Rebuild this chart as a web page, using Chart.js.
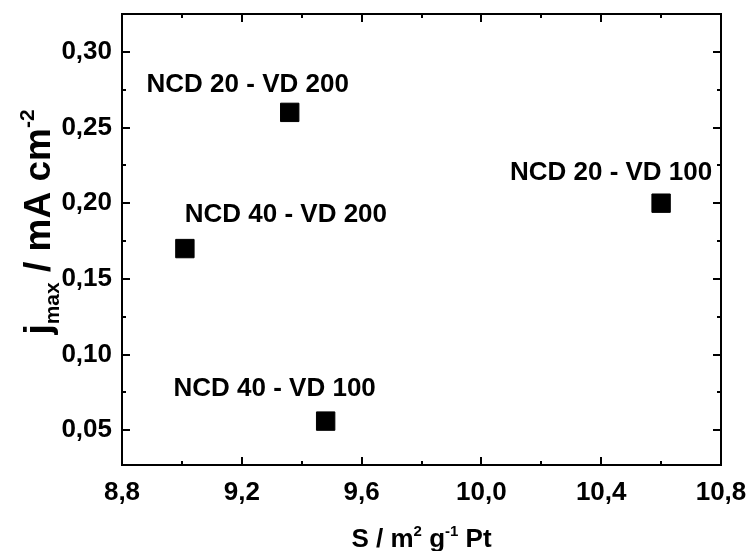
<!DOCTYPE html>
<html>
<head>
<meta charset="utf-8">
<script src="https://cdn.jsdelivr.net/npm/chart.js@4.4.1/dist/chart.umd.min.js"></script>
<style>
  html, body { margin: 0; padding: 0; background: #fff; }
  #wrap { width: 747px; height: 551px; }
</style>
</head>
<body>
<div id="wrap"><canvas id="c" width="747" height="551"></canvas></div>
<script>
// ---- data ----
const samples = ['NCD 20 - VD 200', 'NCD 40 - VD 200', 'NCD 40 - VD 100', 'NCD 20 - VD 100'];
const surface = [9.36, 9.01, 9.48, 10.60];   // S / m2 g-1 Pt
const jmax = [0.26, 0.17, 0.056, 0.20];      // mA cm-2
const xTicks = [8.8, 9.2, 9.6, 10.0, 10.4, 10.8];
const yTicks = [0.05, 0.10, 0.15, 0.20, 0.25, 0.30];

// where each sample name sits relative to its marker (px)
const nameShift = [[-42, -28], [101, -34], [-51, -32], [-50, -30]];

const FONT = '"Liberation Sans", Arial, Helvetica, sans-serif';
const comma = (v, d) => v.toFixed(d).replace('.', ',');

// text with sub/superscripts, centred on (cx, baseline cy)
function drawRich(ctx, parts, cx, cy, rotate) {
  ctx.save();
  ctx.translate(cx, cy);
  if (rotate) ctx.rotate(-Math.PI / 2);
  ctx.fillStyle = '#000';
  ctx.textBaseline = 'alphabetic';
  ctx.textAlign = 'left';
  let total = 0;
  parts.forEach(p => {
    ctx.font = `bold ${p.size}px ${FONT}`;
    p.w = ctx.measureText(p.t).width;
    total += p.w;
  });
  let x = -total / 2;
  parts.forEach(p => {
    ctx.font = `bold ${p.size}px ${FONT}`;
    ctx.fillText(p.t, x, p.dy || 0);
    x += p.w;
  });
  ctx.restore();
}

// box round the plot, inward ticks on all four sides
const frame = {
  id: 'frame',
  afterDraw(chart) {
    const { ctx, chartArea: a, scales: { x, y } } = chart;
    ctx.save();
    ctx.strokeStyle = '#000';
    ctx.lineWidth = 2;
    ctx.strokeRect(a.left, a.top, a.right - a.left, a.bottom - a.top);
    ctx.beginPath();
    for (let i = 0; i < xTicks.length; i++) {
      const px = Math.round(x.getPixelForValue(xTicks[i]));
      ctx.moveTo(px, a.bottom); ctx.lineTo(px, a.bottom - 8);
      ctx.moveTo(px, a.top); ctx.lineTo(px, a.top + 8);
      if (i < xTicks.length - 1) {
        const pm = Math.round(x.getPixelForValue((xTicks[i] + xTicks[i + 1]) / 2));
        ctx.moveTo(pm, a.bottom); ctx.lineTo(pm, a.bottom - 4);
        ctx.moveTo(pm, a.top); ctx.lineTo(pm, a.top + 4);
      }
    }
    const yMinor = [0.075, 0.125, 0.175, 0.225, 0.275];
    yTicks.forEach(v => {
      const py = Math.round(y.getPixelForValue(v));
      ctx.moveTo(a.left, py); ctx.lineTo(a.left + 8, py);
      ctx.moveTo(a.right, py); ctx.lineTo(a.right - 8, py);
    });
    yMinor.forEach(v => {
      const py = Math.round(y.getPixelForValue(v));
      ctx.moveTo(a.left, py); ctx.lineTo(a.left + 4, py);
      ctx.moveTo(a.right, py); ctx.lineTo(a.right - 4, py);
    });
    ctx.stroke();

    // sample names
    ctx.fillStyle = '#000';
    ctx.font = `bold 26px ${FONT}`;
    ctx.textAlign = 'center';
    ctx.textBaseline = 'middle';
    const meta = chart.getDatasetMeta(0);
    meta.data.forEach((pt, i) => {
      ctx.fillText(samples[i], pt.x + nameShift[i][0], pt.y + nameShift[i][1]);
    });

    // axis titles
    drawRich(ctx, [
      { t: 'S / m', size: 26 },
      { t: '2', size: 15, dy: -11 },
      { t: ' g', size: 26 },
      { t: '-1', size: 15, dy: -11 },
      { t: ' Pt', size: 26 }
    ], (a.left + a.right) / 2, 547);
    drawRich(ctx, [
      { t: 'j', size: 37 },
      { t: 'max', size: 21, dy: 9 },
      { t: ' / mA cm', size: 37 },
      { t: '-2', size: 21, dy: -16 }
    ], 50, 222, true);
    ctx.restore();
  }
};

new Chart(document.getElementById('c'), {
  type: 'scatter',
  data: {
    datasets: [{
      data: surface.map((s, i) => ({ x: s, y: jmax[i] })),
      pointStyle: 'rect',
      pointRadius: 13,
      pointHoverRadius: 13,
      backgroundColor: '#000',
      borderColor: '#000',
      borderWidth: 1
    }]
  },
  options: {
    responsive: false,
    animation: false,
    devicePixelRatio: 1,
    layout: { padding: { top: 13, right: 26, left: 0, bottom: 0 } },
    plugins: { legend: { display: false }, tooltip: { enabled: false } },
    scales: {
      x: {
        type: 'linear',
        min: 8.8,
        max: 10.8,
        afterBuildTicks: s => { s.ticks = xTicks.map(v => ({ value: v })); },
        afterFit: s => { s.height = 86; s.paddingLeft = 0; s.paddingRight = 0; },
        grid: { display: false, drawTicks: false },
        border: { display: false },
        ticks: {
          padding: 12,
          maxRotation: 0,
          color: '#000',
          font: { family: FONT, size: 26, weight: 'bold' },
          callback: v => comma(v, 1)
        }
      },
      y: {
        type: 'linear',
        min: 0.027,
        max: 0.325,
        afterBuildTicks: s => { s.ticks = yTicks.map(v => ({ value: v })); },
        afterFit: s => { s.width = 122; s.paddingTop = 0; s.paddingBottom = 0; },
        grid: { display: false, drawTicks: false },
        border: { display: false },
        ticks: {
          padding: 10,
          color: '#000',
          font: { family: FONT, size: 26, weight: 'bold' },
          callback: v => comma(v, 2)
        }
      }
    }
  },
  plugins: [frame]
});
</script>
</body>
</html>
